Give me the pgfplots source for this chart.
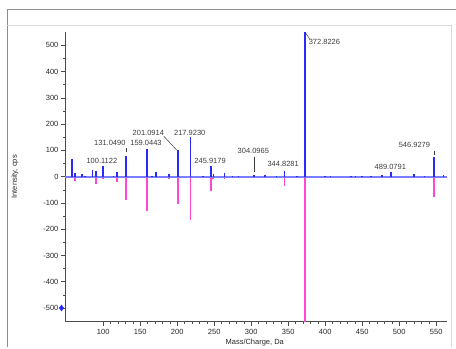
\documentclass[border=0pt]{standalone}
\usepackage{pgfplots}
\pgfplotsset{compat=1.18}
\usepackage{fontspec}
\setmainfont{Liberation Sans}
\definecolor{specblue}{RGB}{40,40,255}
\definecolor{specpink}{RGB}{255,70,215}
\definecolor{baseblue}{RGB}{125,125,255}
\definecolor{lbl}{RGB}{60,60,60}
\begin{document}
\begin{tikzpicture}
\begin{axis}[
  scale only axis, width=382pt, height=290pt,
  xmin=48.3, xmax=564, ymin=-552, ymax=551,
  axis lines*=left,
  axis line style={black!70, line width=0.6pt},
  xtick={100,150,...,550}, ytick={-500,-400,...,500},
  minor x tick num=4, minor y tick num=1,
  tick align=outside, major tick length=4pt, minor tick length=2pt,
  tick style={black!70, line width=0.5pt},
  /pgf/number format/assume math mode=true,
  /pgf/number format/1000 sep={},
  tick label style={font=\fontsize{7.5}{9}\selectfont, text=black!85},
  yticklabel style={xshift=1pt},
  clip=false,
]
% page extent and window frame
\path (rel axis cs:-0.1702,-0.0862) rectangle (rel axis cs:1.0236,1.1103);
\draw[black!45, line width=0.9pt] (rel axis cs:-0.1518,-0.0862) -- (rel axis cs:-0.1518,1.0776) -- (rel axis cs:1.0236,1.0776);
\draw[black!15, line width=0.8pt] (rel axis cs:-0.1518,1.0241) -- (rel axis cs:1.0118,1.0241) -- (rel axis cs:1.0118,-0.0862);
% negative (pink) library spectrum
\addplot[ycomb, draw=specpink, line width=1.7pt, mark=none] coordinates {
 (62,-17) (90,-28) (100.11,-8) (119,-22) (131.05,-90) (159.04,-130)
 (189,-7) (201.09,-105) (217.92,-165) (235,-3) (245.92,-55) (248.8,-10)
 (264,-8) (319,-5) (344.83,-36) (372.82,-552) (390,-2) (546.93,-77)
};
% baseline
\addplot[draw=baseblue, line width=1.8pt, mark=none] coordinates {(48.3,0) (564,0)};
% positive (blue) spectrum
\addplot[ycomb, draw=specblue, line width=1.6pt, mark=none] coordinates {
 (57.6,67) (62,14) (71,12) (75.6,4) (85.5,25) (90,20) (100.11,42) (114,4)
 (119,19) (131.05,78) (159.04,105) (166,3) (171.5,18) (189,9) (201.09,100)
 (217.92,150) (235,3) (245.92,42) (248.8,10) (264,13) (275,3) (283,3)
 (304.1,5) (319,8) (334,2) (344.83,23) (362,3) (372.82,550) (400,2) (407,2)
 (435,2) (441,2) (450,2) (462,2) (477,7) (489.08,16) (520,12) (534,4)
 (546.93,75) (560,5)
};
% marker at -500
\addplot[only marks, mark=diamond*, mark size=3pt, draw=specblue, fill=specblue] coordinates {(43.6,-500)};
% peak labels
\begin{scope}[font=\fontsize{7.5}{9}\selectfont, text=lbl]
\node[anchor=west, inner sep=0pt] at (axis cs:377.6,512) {372.8226};
\node[inner sep=0pt] at (axis cs:520.6,120) {546.9279};
\node[inner sep=0pt] at (axis cs:488,38) {489.0791};
\node[inner sep=0pt] at (axis cs:343.2,47) {344.8281};
\node[inner sep=0pt] at (axis cs:302.9,99) {304.0965};
\node[inner sep=0pt] at (axis cs:244.4,61) {245.9179};
\node[inner sep=0pt] at (axis cs:217,166) {217.9230};
\node[inner sep=0pt] at (axis cs:161,166) {201.0914};
\node[inner sep=0pt] at (axis cs:157.8,128) {159.0443};
\node[inner sep=0pt] at (axis cs:109,128) {131.0490};
\node[inner sep=0pt] at (axis cs:98.2,60) {100.1122};
\end{scope}
\draw[lbl, line width=0.5pt] (axis cs:372.82,550) -- (axis cs:379,525);
\draw[lbl, line width=0.5pt] (axis cs:546.93,99) -- (axis cs:546.93,82);
\draw[lbl, line width=0.5pt] (axis cs:304.1,76) -- (axis cs:304.1,19);
\draw[lbl, line width=0.5pt] (axis cs:181.9,154) -- (axis cs:199.4,101);
\draw[lbl, line width=0.5pt] (axis cs:130.6,109) -- (axis cs:130.6,94);
\node[font=\fontsize{7.5}{9}\selectfont, text=black!85] at (rel axis cs:0.4974,-0.0707) {Mass/Charge, Da};
\node[font=\fontsize{7.5}{9}\selectfont, text=black!85, rotate=90] at (rel axis cs:-0.1309,0.5) {Intensity, cps};
\end{axis}
\end{tikzpicture}
\end{document}
